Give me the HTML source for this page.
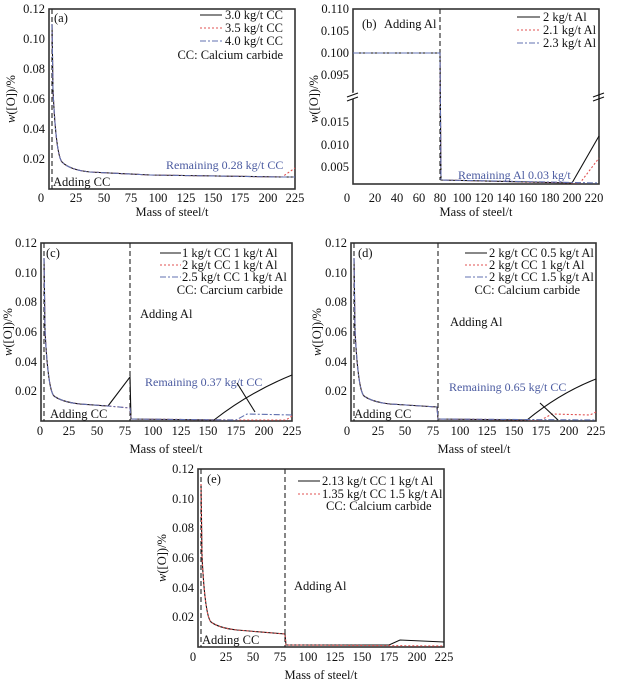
<!DOCTYPE html>
<html><head><meta charset="utf-8"><style>
body{margin:0;background:#fff}
svg{display:block}
text{font-family:"Liberation Serif",serif;font-size:12.5px;fill:#111}
.lg{font-size:12px}
.t{text-anchor:middle}
.r{text-anchor:end}
.b{fill:#4a5aa0}
.ax{fill:none;stroke:#333;stroke-width:1.6}
.k{fill:none;stroke:#111;stroke-width:1.1}
.rd{fill:none;stroke:#e05050;stroke-width:1.1;stroke-dasharray:2,2}
.bl{fill:none;stroke:#6070b0;stroke-width:1.1;stroke-dasharray:6,2,2,2}
.vd{fill:none;stroke:#222;stroke-width:1.1;stroke-dasharray:5,3}
</style></head><body>
<svg width="618" height="692" viewBox="0 0 618 692" xmlns="http://www.w3.org/2000/svg">
<!-- Panel a -->
<rect class="ax" x="49" y="9" width="246" height="180"/>
<g class="r"><text x="45" y="163">0.02</text><text x="45" y="133">0.04</text><text x="45" y="103">0.06</text><text x="45" y="73">0.08</text><text x="45" y="43">0.10</text><text x="45" y="13">0.12</text></g>
<g class="t"><text x="41" y="202">0</text><text x="76" y="202">25</text><text x="104" y="202">50</text><text x="131" y="202">75</text><text x="158" y="202">100</text><text x="186" y="202">125</text><text x="213" y="202">150</text><text x="240" y="202">175</text><text x="268" y="202">200</text><text x="295" y="202">225</text></g>
<text class="t" x="172" y="216">Mass of steel/t</text>
<text class="t" transform="translate(15,99) rotate(-90)"><tspan font-style="italic">w</tspan>([O])/%</text>
<line class="vd" x1="52" y1="9" x2="52" y2="189"/>
<path class="k" d="M52,24 L53,90 Q56,155 62,162 Q70,170 90,172 L150,175 L282,177 L295,177"/>
<path class="rd" d="M52,24 L53,90 Q56,155 62,162 Q70,170 90,172 L150,175 L282,177 L295,168"/>
<path class="bl" d="M52,24 L53,90 Q56,155 62,162 Q70,170 90,172 L150,175 L282,177 L295,177"/>
<text x="54" y="22">(a)</text>
<text x="53" y="186">Adding CC</text>
<text class="b lg" x="166" y="169">Remaining 0.28 kg/t CC</text>
<g class="lg">
<line class="k" x1="200" y1="15" x2="222" y2="15"/><text x="225" y="19">3.0 kg/t CC</text>
<line class="rd" x1="200" y1="28" x2="222" y2="28"/><text x="225" y="32">3.5 kg/t CC</text>
<line class="bl" x1="200" y1="41" x2="222" y2="41"/><text x="225" y="45">4.0 kg/t CC</text>
<text class="r" x="283" y="59">CC: Calcium carbide</text></g>

<!-- Panel b -->
<rect class="ax" x="353" y="9" width="246" height="175"/>
<line x1="347" y1="98" x2="359" y2="94" stroke="#fff" stroke-width="6"/>
<path class="k" d="M347,97 L358,93 M347,101 L358,97 M593,97 L604,93 M593,101 L604,97"/>
<g class="r"><text x="349" y="13">0.110</text><text x="349" y="35">0.105</text><text x="349" y="57">0.100</text><text x="349" y="79">0.095</text><text x="349" y="126">0.015</text><text x="349" y="149">0.010</text><text x="349" y="171">0.005</text></g>
<g class="t"><text x="347" y="202">0</text><text x="375" y="202">20</text><text x="397" y="202">40</text><text x="419" y="202">60</text><text x="440" y="202">80</text><text x="462" y="202">100</text><text x="484" y="202">120</text><text x="506" y="202">140</text><text x="528" y="202">160</text><text x="550" y="202">180</text><text x="572" y="202">200</text><text x="594" y="202">220</text></g>
<text class="t" x="476" y="216">Mass of steel/t</text>
<text class="t" transform="translate(318,99) rotate(-90)"><tspan font-style="italic">w</tspan>([O])/%</text>
<line class="vd" x1="440" y1="9" x2="440" y2="180"/>
<path class="k" d="M353,53 L440,53 L441,180 L572,183 L599,136"/>
<path class="rd" d="M353,53 L440,53 L441,180 L580,183 L599,158"/>
<path class="bl" d="M353,53 L440,53 L441,180 L599,183"/>
<text x="362" y="28">(b)</text><text x="384" y="28">Adding Al</text>
<text class="b lg" x="458" y="179">Remaining Al 0.03 kg/t</text>
<g class="lg">
<line class="k" x1="517" y1="17" x2="540" y2="17"/><text x="543" y="21">2 kg/t Al</text>
<line class="rd" x1="517" y1="30" x2="540" y2="30"/><text x="543" y="34">2.1 kg/t Al</text>
<line class="bl" x1="517" y1="43" x2="540" y2="43"/><text x="543" y="47">2.3 kg/t Al</text></g>

<!-- Panel c -->
<rect class="ax" x="41" y="243" width="251" height="178"/>
<g class="r"><text x="37" y="395">0.02</text><text x="37" y="366">0.04</text><text x="37" y="336">0.06</text><text x="37" y="306">0.08</text><text x="37" y="277">0.10</text><text x="37" y="247">0.12</text></g>
<g class="t"><text x="40" y="435">0</text><text x="69" y="435">25</text><text x="97" y="435">50</text><text x="125" y="435">75</text><text x="153" y="435">100</text><text x="181" y="435">125</text><text x="208" y="435">150</text><text x="236" y="435">175</text><text x="264" y="435">200</text><text x="292" y="435">225</text></g>
<text class="t" x="166" y="453">Mass of steel/t</text>
<text class="t" transform="translate(12,332) rotate(-90)"><tspan font-style="italic">w</tspan>([O])/%</text>
<line class="vd" x1="44" y1="243" x2="44" y2="421"/>
<line class="vd" x1="130" y1="243" x2="130" y2="421"/>
<path class="k" d="M44,258 L45,330 Q48,390 54,396 Q62,402 80,404 L108,406 L130,377 L131,419 L214,420 Q250,392 292,375"/>
<path class="rd" d="M44,258 L45,330 Q48,390 54,396 Q62,402 80,404 L108,406 L130,408 L131,419 L236,420 L286,420 L292,416"/>
<path class="bl" d="M44,258 L45,330 Q48,390 54,396 Q62,402 80,404 L108,406 L130,408 L131,419 L236,420 L247,414 L292,415"/>
<text x="46" y="257">(c)</text>
<text x="140" y="318">Adding Al</text>
<text x="50" y="418">Adding CC</text>
<text class="b lg" x="145" y="386">Remaining 0.37 kg/t CC</text>
<line class="k" x1="237" y1="383" x2="255" y2="412"/>
<g class="lg">
<line class="k" x1="160" y1="253" x2="181" y2="253"/><text x="182" y="257">1 kg/t CC 1 kg/t Al</text>
<line class="rd" x1="160" y1="265" x2="181" y2="265"/><text x="182" y="269">2 kg/t CC 1 kg/t Al</text>
<line class="bl" x1="160" y1="277" x2="181" y2="277"/><text x="182" y="281">2.5 kg/t CC 1 kg/t Al</text>
<text class="r" x="283" y="294">CC: Carcium carbide</text></g>

<!-- Panel d -->
<rect class="ax" x="351" y="243" width="245" height="178"/>
<g class="r"><text x="347" y="395">0.02</text><text x="347" y="366">0.04</text><text x="347" y="336">0.06</text><text x="347" y="306">0.08</text><text x="347" y="277">0.10</text><text x="347" y="247">0.12</text></g>
<g class="t"><text x="347" y="435">0</text><text x="378" y="435">25</text><text x="405" y="435">50</text><text x="433" y="435">75</text><text x="460" y="435">100</text><text x="487" y="435">125</text><text x="514" y="435">150</text><text x="541" y="435">175</text><text x="569" y="435">200</text><text x="596" y="435">225</text></g>
<text class="t" x="474" y="453">Mass of steel/t</text>
<text class="t" transform="translate(321,332) rotate(-90)"><tspan font-style="italic">w</tspan>([O])/%</text>
<line class="vd" x1="354" y1="243" x2="354" y2="421"/>
<line class="vd" x1="438" y1="243" x2="438" y2="421"/>
<path class="k" d="M354,258 L355,330 Q358,390 364,396 Q372,402 390,404 L437,407 L438,419 L527,420 Q560,393 596,379"/>
<path class="rd" d="M354,258 L355,330 Q358,390 364,396 Q372,402 390,404 L437,407 L438,419 L541,420 L552,414 L590,415 L596,412"/>
<path class="bl" d="M354,258 L355,330 Q358,390 364,396 Q372,402 390,404 L437,407 L438,419 L596,420"/>
<text x="358" y="257">(d)</text>
<text x="450" y="326">Adding Al</text>
<text x="354" y="418">Adding CC</text>
<text class="b lg" x="449" y="391">Remaining 0.65 kg/t CC</text>
<line class="k" x1="540" y1="403" x2="558" y2="420"/>
<g class="lg">
<line class="k" x1="465" y1="253" x2="487" y2="253"/><text x="489" y="257">2 kg/t CC 0.5 kg/t Al</text>
<line class="rd" x1="465" y1="265" x2="487" y2="265"/><text x="489" y="269">2 kg/t CC 1 kg/t Al</text>
<line class="bl" x1="465" y1="277" x2="487" y2="277"/><text x="489" y="281">2 kg/t CC 1.5 kg/t Al</text>
<text class="r" x="580" y="294">CC: Calcium carbide</text></g>

<!-- Panel e -->
<rect class="ax" x="198" y="469" width="246" height="178"/>
<g class="r"><text x="194" y="621">0.02</text><text x="194" y="592">0.04</text><text x="194" y="562">0.06</text><text x="194" y="532">0.08</text><text x="194" y="503">0.10</text><text x="194" y="473">0.12</text></g>
<g class="t"><text x="193" y="661">0</text><text x="226" y="661">25</text><text x="253" y="661">50</text><text x="280" y="661">75</text><text x="308" y="661">100</text><text x="335" y="661">125</text><text x="362" y="661">150</text><text x="389" y="661">175</text><text x="417" y="661">200</text><text x="444" y="661">225</text></g>
<text class="t" x="321" y="679">Mass of steel/t</text>
<text class="t" transform="translate(166,558) rotate(-90)"><tspan font-style="italic">w</tspan>([O])/%</text>
<line class="vd" x1="201" y1="469" x2="201" y2="647"/>
<line class="vd" x1="285" y1="469" x2="285" y2="647"/>
<path class="k" d="M201,484 L202,556 Q205,616 211,622 Q219,628 237,630 L285,634 L286,645 L389,645 L400,640 L444,642"/>
<path class="rd" d="M201,484 L202,556 Q205,616 211,622 Q219,628 237,630 L285,634 L286,645 L444,646"/>
<text x="207" y="483">(e)</text>
<text x="294" y="590">Adding Al</text>
<text x="202" y="644">Adding CC</text>
<g class="lg">
<line class="k" x1="298" y1="481" x2="320" y2="481"/><text x="322" y="485">2.13 kg/t CC 1 kg/t Al</text>
<line class="rd" x1="298" y1="494" x2="320" y2="494"/><text x="322" y="498">1.35 kg/t CC 1.5 kg/t Al</text>
<text x="326" y="510">CC: Calcium carbide</text></g>
</svg>
</body></html>
